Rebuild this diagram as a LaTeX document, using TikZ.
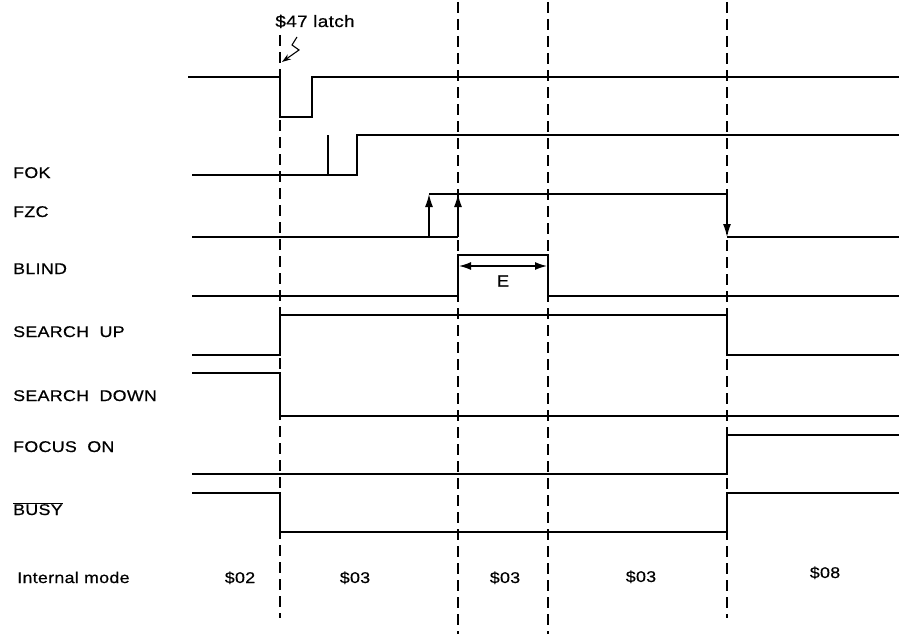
\documentclass[tikz,border=0pt]{standalone}
\usepackage{fontspec}
\newfontfamily\labfont[FakeStretch=1.15,LetterSpace=2,FakeBold=0.6]{Liberation Sans}
\usetikzlibrary{arrows.meta}
\begin{document}
\begin{tikzpicture}[x=1pt,y=-1pt,
  sig/.style={line width=1.8pt, line join=miter},
  guide/.style={line width=1.2pt, dash pattern=on 11pt off 6pt},
  lab/.style={anchor=base west, inner sep=0pt, font=\labfont\fontsize{15.5}{18}\selectfont},
  modelab/.style={anchor=base, inner sep=0pt, font=\labfont\fontsize{15.5}{18}\selectfont},
  arr/.style={line width=1.4pt, -{Latex[length=13pt,width=8pt]}},
  dimarr/.style={line width=1.4pt, {Latex[length=12pt,width=8pt]}-{Latex[length=12pt,width=8pt]}}]
\useasboundingbox (0,0) rectangle (899,634);

% guide lines
\draw[guide] (280,35) -- (280,618);
\draw[guide] (458,2) -- (458,634);
\draw[guide] (548,2) -- (548,634);
\draw[guide] (727,2) -- (727,618);

% latch annotation
\node[anchor=base, inner sep=0pt, font=\labfont\fontsize{16.5}{19}\selectfont] (latch) at (315,27) {\$47 latch};
\draw[line width=1.1pt, -{Stealth[length=9pt,width=6pt]}] (297,37) -- (292,45) -- (299,50) -- (282,62);

% top signal
\draw[sig] (188,77) -- (280,77) -- (280,117) -- (312,117) -- (312,77) -- (899,77);

% FOK
\node[lab] (fok) at (13,178) {FOK};
\draw[sig] (192,175) -- (357,175) -- (357,135) -- (899,135);
\draw[sig] (328,175) -- (328,135);

% FZC
\node[lab] (fzc) at (13,217) {FZC};
\draw[sig] (192,237) -- (458,237);
\draw[sig] (429,194) -- (727,194);
\draw[arr] (429,237) -- (429,194);
\draw[arr] (458,237) -- (458,194);
\draw[arr] (727,194) -- (727,237);
\draw[sig] (727,237) -- (899,237);

% BLIND
\node[lab] (blind) at (13,274) {BLIND};
\draw[sig] (192,296) -- (458,296) -- (458,255) -- (548,255) -- (548,296) -- (899,296);
\draw[dimarr] (459,266) -- (547,266);
\node[anchor=center, inner sep=0pt, font=\labfont\fontsize{16}{18}\selectfont] (e) at (503,281) {E};

% SEARCH UP
\node[lab] (sup) at (13,337) {SEARCH\ \ UP};
\draw[sig] (192,355) -- (280,355) -- (280,315) -- (727,315) -- (727,355) -- (899,355);

% SEARCH DOWN
\node[lab] (sdown) at (13,401) {SEARCH\ \ DOWN};
\draw[sig] (192,373) -- (280,373) -- (280,416) -- (899,416);

% FOCUS ON
\node[lab] (fon) at (13,452) {FOCUS\ \ ON};
\draw[sig] (192,474) -- (727,474) -- (727,435) -- (899,435);

% BUSY
\node[lab] (busy) at (13,515) {$\overline{\mbox{BUSY}}$};
\draw[sig] (192,493) -- (280,493) -- (280,532) -- (727,532) -- (727,493) -- (899,493);

% Internal mode
\node[lab] (im) at (17,583) {Internal mode};
\node[modelab] (m1) at (240,583) {\$02};
\node[modelab] (m2) at (355,583) {\$03};
\node[modelab] (m3) at (505,583) {\$03};
\node[modelab] (m4) at (641,582) {\$03};
\node[modelab] (m5) at (825,578) {\$08};
\end{tikzpicture}
\end{document}
